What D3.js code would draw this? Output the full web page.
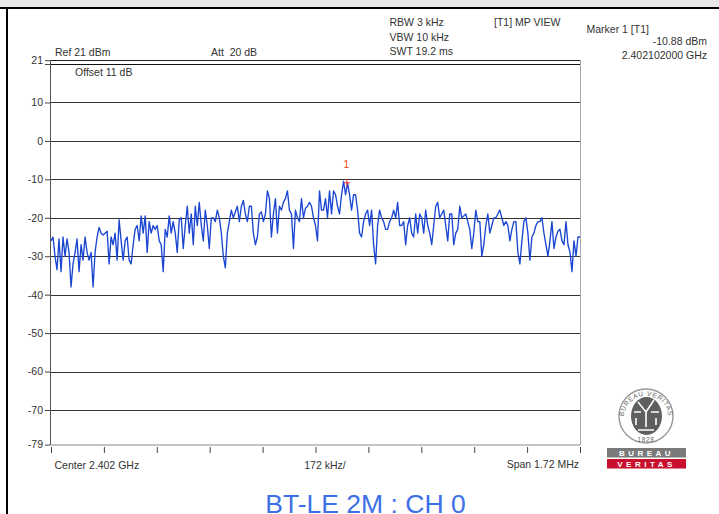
<!DOCTYPE html>
<html><head><meta charset="utf-8"><script src="https://cdnjs.cloudflare.com/ajax/libs/d3/7.8.5/d3.min.js"></script>
<style>html,body{margin:0;padding:0;background:#fff;overflow:hidden}text{font-family:"Liberation Sans",Arial,sans-serif;white-space:pre}</style></head>
<body><svg id="c" width="719" height="514"></svg>
<script>
const traceDb = [-26,-25,-30,-33.5,-25.5,-34,-25,-30,-25.5,-29,-38,-32,-29,-25.5,-34,-27,-31,-25,-29,-31,-29,-38,-29,-25,-22.5,-24,-24.5,-24,-23.5,-32,-25,-27,-24,-31,-20.5,-26,-31,-26,-25,-31,-32,-27,-23,-22,-26,-19.5,-24,-19.5,-29,-21,-24,-22,-23,-22,-26,-27,-34,-23,-25,-19.5,-24,-21,-24,-29,-20.5,-20,-28,-22,-17,-24,-19,-27,-17,-22,-16,
-22,-26,-18,-22,-28,-20,-20,-21,-18,-20,-24,-30,-33,-24,-21,-18,-20,-18.5,-17,-21,-17,-15.5,-19,-21,-17,-17,-24,-27,-25,-19,-18.5,-21,-19,-13,-15,-25,-19,-15,-24,-17,-18,-16,-15,-13,-18,-19,-28,-18,-20,-21,-15,-20,-17.5,-17,-16,-17,-20,-22,-26,-13,-18,-18,-15,-20,-13,-19,-13,-14,-17,-19,-14,-10.5,-14,-11,-14,-18,-14,-14,-18,-24,-25,-21,-19,-18,-22,-18,-27,-32,-22,-18,-20,-21,-23,-23,-21,
-20,-18,-20,-16,-22,-22,-21,-27,-22,-20,-24,-25,-19,-24,-19,-20,-24,-18,-22,-24,-27,-22,-17,-16,-20,-19,-18,-22,-26,-19,-19,-27,-24,-23,-17,-20,-19.5,-19,-21,-23,-28,-24,-18,-21,-21,-30,-27,-22,-19,-24,-22,-20,-20,-19,-18,-20,-22,-21,-22,-26,-23,-21,-21,-29,-32,-26,-21,-20,-24,-31,-25,-24,-22,-21,-21,-20,-24,-27,-30,-26,-21,-28,-25,-23.5,-23,-26,-27,-21,-27,-29,-34,-26,-30,-25,-25];
const yTicks = [21,10,0,-10,-20,-30,-40,-50,-60,-70,-79];
const gridLevels = [20,10,0,-10,-20,-30,-40,-50,-60,-70];
const xDivisions = d3.range(-5,6);
const spanMHzPerDiv = 0.172;
const marker = {mhz:0.102, db:-10.88, label:"1"};
const headerTexts = [
 ["Ref 21 dBm",55,55.5],["Att  20 dB",211,55.5],["Offset 11 dB",75,76],
 ["RBW 3 kHz",389.5,26],["VBW 10 kHz",389.5,41],["SWT 19.2 ms",389.5,55],["[T1] MP VIEW",494,26],["Marker 1 [T1]",586.5,32.5]];
const rightTexts = [["-10.88 dBm",707,45],["2.402102000 GHz",707,59]];
const footerTexts = [["Center 2.402 GHz",54.5,468.5,"start"],["172 kHz/",325,468.5,"middle"],["Span 1.72 MHz",579,467.5,"end"]];
const titleText = "BT-LE 2M : CH 0";

const svg = d3.select("#c");
const L=51,R=580,T=60.2,B=444.6;
const x = d3.scaleLinear().domain([-0.86,0.86]).range([L,R]);
const y = d3.scaleLinear().domain([21,-79]).range([T,B]);
const idx = d3.scaleLinear().domain([0,traceDb.length-1]).range([-0.86,0.86]);

svg.append("rect").attr("width",719).attr("height",7).attr("fill","#e8e8e8");
svg.append("rect").attr("y",7).attr("width",719).attr("height",2).attr("fill","#000");
svg.append("rect").attr("x",6).attr("y",8).attr("width",2).attr("height",506).attr("fill","#000");

// grid
svg.append("g").selectAll("line").data(gridLevels).join("line")
 .attr("x1",L).attr("x2",R).attr("y1",d=>Math.round(y(d))+.5).attr("y2",d=>Math.round(y(d))+.5)
 .attr("stroke",d=>d===20?"#111":"#333").attr("stroke-width",1.2);
svg.append("line").attr("x1",L).attr("x2",R).attr("y1",60.5).attr("y2",60.5).attr("stroke","#222");
svg.append("line").attr("x1",L).attr("x2",R).attr("y1",445).attr("y2",445).attr("stroke","#888");
svg.append("line").attr("x1",L-.5).attr("x2",L-.5).attr("y1",60).attr("y2",445).attr("stroke","#555");
svg.append("line").attr("x1",R+.5).attr("x2",R+.5).attr("y1",60).attr("y2",445).attr("stroke","#aaa");

// y axis
const yAxis = d3.axisLeft(y).tickValues(yTicks.concat([20])).tickSize(5).tickPadding(2).tickFormat(d=>d===20?"":d);
const gy = svg.append("g").attr("transform",`translate(${L-1},0)`).call(yAxis);
gy.select(".domain").remove();
gy.selectAll("text").attr("font-size",10.5).attr("fill","#333").style("font-family",'"Liberation Sans"');
gy.selectAll("line").attr("stroke","#444");

// x axis
const xAxis = d3.axisBottom(x).tickValues(xDivisions.map(d=>d*spanMHzPerDiv)).tickSize(6).tickFormat("");
const gx = svg.append("g").attr("transform","translate(0,447)").call(xAxis);
gx.select(".domain").remove();
gx.selectAll("line").attr("stroke","#444");

// trace
const line = d3.line().x((d,i)=>x(idx(i))).y(d=>y(d));
svg.append("path").datum(traceDb).attr("d",line).attr("fill","none").attr("stroke","#1a46d2").attr("stroke-width",1.35).attr("stroke-linejoin","round");

// marker
const mx=x(marker.mhz), my=y(marker.db);
svg.append("path").attr("d",`M${mx},${my-4}V${my+4}M${mx-3},${my}H${mx+3}`).attr("stroke","#f03030").attr("fill","none");
svg.append("text").attr("x",mx-.5).attr("y",167.5).attr("text-anchor","middle").attr("font-size",11).attr("fill","#f04a20").text(marker.label);

// texts
const tc="#333";
svg.append("g").selectAll("text").data(headerTexts).join("text").attr("x",d=>d[1]).attr("y",d=>d[2]).attr("font-size",10.5).attr("fill",tc).text(d=>d[0]);
svg.append("g").selectAll("text").data(rightTexts).join("text").attr("x",d=>d[1]).attr("y",d=>d[2]).attr("text-anchor","end").attr("font-size",10.5).attr("fill",tc).text(d=>d[0]);
svg.append("g").selectAll("text").data(footerTexts).join("text").attr("x",d=>d[1]).attr("y",d=>d[2]).attr("text-anchor",d=>d[3]).attr("font-size",10.5).attr("fill",tc).text(d=>d[0]);
svg.append("text").attr("x",365.5).attr("y",512.5).attr("text-anchor","middle").attr("font-size",26.5).attr("fill","#3d6fe6").text(titleText);

// logo
const logo = svg.append("g");
logo.append("ellipse").attr("cx",646).attr("cy",416).attr("rx",27).attr("ry",27).attr("fill","#fff").attr("stroke","#999").attr("stroke-width",1.4);
logo.append("ellipse").attr("cx",646.5).attr("cy",416).attr("rx",15.5).attr("ry",19).attr("fill","#5f5f5f");
logo.append("path").attr("d","M638,402L646,412L654,400M646,412V427M638,430H654M634,412H641M651,412H659M636,418V425M656,418V425").attr("stroke","#fff").attr("stroke-width",1.6).attr("fill","none");
logo.append("path").attr("id","arcTop").attr("d","M624,423A22.5,22.5 0 1 1 668,423").attr("fill","none");
logo.append("text").attr("font-size",6.6).attr("fill","#666").attr("letter-spacing",.7).append("textPath").attr("href","#arcTop").attr("startOffset","50%").attr("text-anchor","middle").text("BUREAU VERITAS");
logo.append("text").attr("x",646).attr("y",441.5).attr("text-anchor","middle").attr("font-size",6.5).attr("fill","#666").attr("letter-spacing",.6).text("1828");
logo.append("rect").attr("x",607).attr("y",448).attr("width",79).attr("height",9.5).attr("fill","#7a7a7a");
logo.append("rect").attr("x",607).attr("y",459).attr("width",79).attr("height",9.5).attr("fill","#c8102e");
logo.append("text").attr("x",646.5).attr("y",456).attr("text-anchor","middle").attr("font-size",8).attr("font-weight","bold").attr("fill","#fff").attr("letter-spacing",3.5).text("BUREAU");
logo.append("text").attr("x",646.5).attr("y",467).attr("text-anchor","middle").attr("font-size",8).attr("font-weight","bold").attr("fill","#fff").attr("letter-spacing",3.5).text("VERITAS");
</script></body></html>
